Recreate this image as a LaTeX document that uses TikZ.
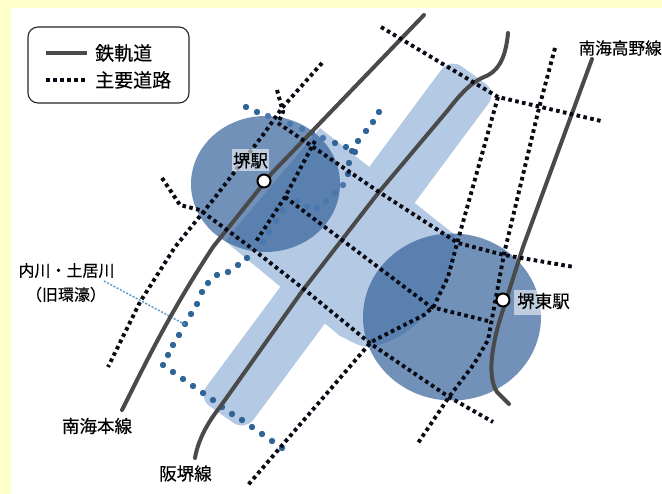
\documentclass[tikz,border=0pt]{standalone}
\usepackage{fontspec}
\setmainfont[FakeBold=0.35]{Noto Sans CJK JP}
\newfontfamily\medf[FakeBold=0.35]{Noto Sans CJK JP}
\definecolor{bgy}{HTML}{FFFFCC}
\definecolor{bandc}{HTML}{B4C9E3}
\definecolor{circc}{HTML}{305E98}
\definecolor{railc}{HTML}{4A4A4A}
\definecolor{moatc}{HTML}{2F6496}
\definecolor{moatin}{HTML}{4A78AD}
\definecolor{leaderc}{HTML}{5F9BC8}
\definecolor{roadc}{HTML}{080A14}
\tikzset{
 x=1pt,y=-1pt,
 railw/.style={draw=railc,line width=4pt,line cap=round},
 road/.style={draw=roadc,line width=3.9pt,dash pattern=on 3.6pt off 3.4pt},
 lab/.style={font=\medf\fontsize{17.5}{19}\selectfont,text=black,inner sep=0pt},
 leglab/.style={font=\medf\fontsize{19}{21}\selectfont,text=black,inner sep=0pt,anchor=west},
 stn/.style={circle,draw=black,fill=white,line width=2pt,minimum size=13pt,inner sep=0pt},
 circ/.style={fill=circc,fill opacity=.68},
 moatdot/.style={fill=moatc},
 moatdotin/.style={fill=moatin}
}
\begin{document}
\begin{tikzpicture}
\useasboundingbox (0,0) rectangle (662,494);
\fill[bgy] (0,0) rectangle (662,494);
\fill[white] (11,8) rectangle (662,494);
% bands
\fill[bandc,rounded corners=14pt] (450,58) -- (497,92) -- (245,431) -- (198,398) -- cycle;
\fill[bandc] (320,128) -- (455,235) -- (455,247)
  .. controls (452,290) and (420,335) .. (375,346)
  .. controls (362,350) and (350,340) .. (340,336)
  -- (225,241) -- cycle;
% moat dots outside circles
\foreach \p in {(246,107),(257,112),(335,143),(346,147),(352,151),(379,112),(373,122),(366,131),(358,141),(355,152),(349,163),(348,174),
 (247,258),(238,265),(228,272),(217,275),(208,283),(202,292),(197,304),(191,314),(185,324),(179,335),(173,345),(168,355),(163,365),
 (173,372),(183,379),(193,386),(203,393),(213,400),(222,407),(232,414),(242,420),(252,427),(262,434),(272,441),(282,448)}
  \fill[moatdot] \p circle (3.2);
% circles
\fill[circ] (265.5,184) ellipse (74.5 and 68);
\fill[circ] (452,317) ellipse (89 and 83.5);
% moat dots inside circles
\foreach \p in {(268,116),(290,124),(302,129),(312,133),(323,138),(343,185),(335,193),(326,201),(317,208),(307,207),(297,201),(282,210),(276,221),(269,232),(263,242)}
  \fill[moatdotin] \p circle (3.2);
% leader
\draw[leaderc,line width=1.5pt,dash pattern=on 2pt off 1.6pt] (104,281) -- (186,325);
% railways
\draw[railw] (122,410) .. controls (140,375) and (165,320) .. (213,247) -- (272,173) -- (424,15);
\draw[railw] (195,458) .. controls (198,440) and (208,422) .. (220,407) -- (303,290) -- (379,192) -- (448,110)
  .. controls (462,92) and (472,82) .. (484,77) .. controls (500,71) and (506,55) .. (508,33);
\draw[railw] (592,59) -- (523,247) -- (503,310) .. controls (493,340) and (486,375) .. (497,392) -- (509,404);
% roads
\draw[road] (381,27) -- (498,97) -- (601,121);
\draw[road] (555,48) -- (539,108) -- (504,254) -- (488,340) -- (474,364) -- (449,397) -- (418,443);
\draw[road] (498,97) -- (458,240) -- (448,277) -- (434,306) -- (424,315) -- (371,342) -- (248,485);
\draw[road] (278,123) -- (379,192) -- (458,243) -- (504,255) -- (574,267);
\draw[road] (162,178) -- (180,205) -- (200,210) -- (250,247) -- (305,290) -- (371,344) -- (449,397) -- (493,422);
\draw[road] (322,63) -- (282,108) -- (263,135) -- (213,200) -- (175,247) -- (140,302) -- (108,367);
\draw[road] (277,90) -- (283,112) -- (278,123);
\draw[road] (315,141) -- (285,197) -- (255,243);
\draw[road] (285,197) -- (431,307) -- (488,321);
% stations
\node[stn] (sakai) at (264,181) {};
\node[stn] (higashi) at (503,300) {};
% station labels
\node[lab,fill=white,fill opacity=.55,text opacity=1,minimum width=37pt,minimum height=22pt] (lsakai) at (250.5,160.5) {堺駅};
\node[lab,fill=white,fill opacity=.55,text opacity=1,minimum width=28pt,minimum height=25pt] (lhbg) at (527.5,302.5) {};
\node[lab] (lhigashi) at (543.5,301) {堺東駅};
% labels
\node[lab,anchor=west,font=\medf\fontsize{16.6}{18}\selectfont] (koya) at (578.5,48) {南海高野線};
\node[lab] (honsen) at (97,426) {南海本線};
\node[lab] (hankai) at (185.5,473.5) {阪堺線};
\node[lab,font=\medf\fontsize{16}{18}\selectfont] (uchi) at (66.5,270.5) {内川・土居川};
\node[lab,font=\medf\fontsize{16}{18}\selectfont] (kyu) at (66,294.5) {（旧環濠）};
% legend
\node[draw=black!85,line width=1.1pt,rounded corners=10pt,minimum width=161pt,minimum height=76pt,inner sep=0pt] (legend) at (108.5,65) {};
\coordinate (r1) at (46,53); \coordinate (r2) at (87,53);
\coordinate (d1) at (46,80); \coordinate (d2) at (87,80);
\draw[railw,line cap=butt] (r1) -- (r2);
\draw[road] (d1) -- (d2);
\node[leglab] (l1) at (95,53) {鉄軌道};
\node[leglab] (l2) at (95,80) {主要道路};
\end{tikzpicture}
\end{document}
